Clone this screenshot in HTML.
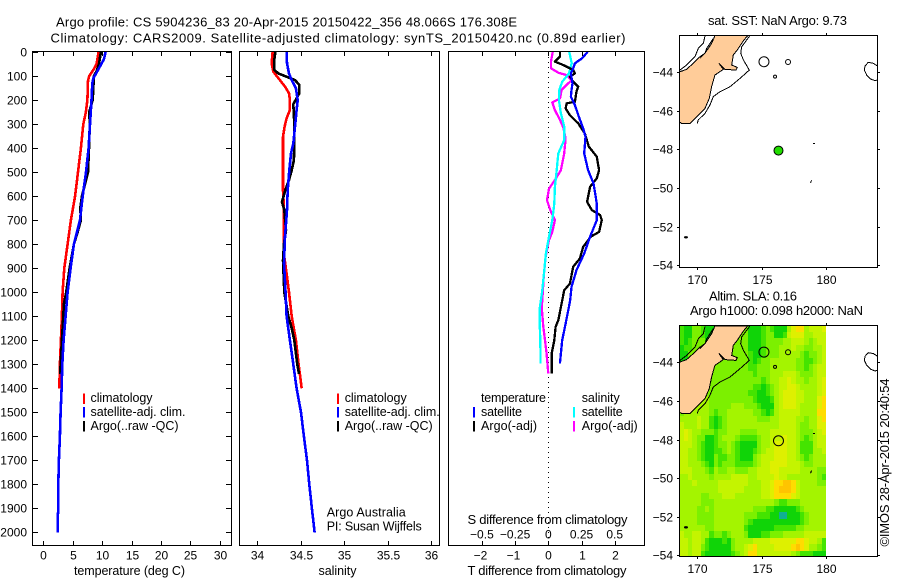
<!DOCTYPE html>
<html>
<head>
<meta charset="utf-8">
<title>Argo profile</title>
<style>
html,body{margin:0;padding:0;background:#fff;width:900px;height:580px;overflow:hidden}
svg{display:block}
text{font-family:"Liberation Sans",sans-serif;font-size:12.5px;fill:#000}
text.t{font-size:13px}
text.n{font-size:12px}
</style>
</head>
<body>
<svg id="chart" xmlns="http://www.w3.org/2000/svg" width="900" height="580" viewBox="0 0 900 580">
<text class="t" x="56" y="26.5" textLength="461">Argo profile: CS 5904236_83 20-Apr-2015 20150422_356 48.066S 176.308E</text>
<text class="t" x="50.5" y="42.5" textLength="575">Climatology: CARS2009. Satellite-adjusted climatology: synTS_20150420.nc (0.89d earlier)</text>
<text x="74" y="575" textLength="111">temperature (deg C)</text>
<text x="318.5" y="575" textLength="38">salinity</text>
<text class="t" x="467.5" y="575" textLength="159">T difference from climatology</text>
<text class="t" x="467.5" y="524" textLength="160">S difference from climatology</text>
<text x="326.7" y="516.7" textLength="79">Argo Australia</text>
<text x="326.7" y="530.7" textLength="95">PI: Susan Wijffels</text>
<text x="90.5" y="402" textLength="62">climatology</text>
<text x="90.5" y="416" textLength="95">satellite-adj. clim.</text>
<text x="90.5" y="430" textLength="88">Argo(..raw -QC)</text>
<text x="344.7" y="402" textLength="62">climatology</text>
<text x="344.7" y="416" textLength="95">satellite-adj. clim.</text>
<text x="344.7" y="430" textLength="88">Argo(..raw -QC)</text>
<text x="481" y="402" textLength="65">temperature</text>
<text x="481" y="416" textLength="41">satellite</text>
<text x="481" y="430" textLength="56">Argo(-adj)</text>
<text x="581.7" y="402" textLength="38">salinity</text>
<text x="581.7" y="416" textLength="41">satellite</text>
<text x="581.7" y="430" textLength="56">Argo(-adj)</text>
<text class="t" x="708" y="25" textLength="139">sat. SST: NaN Argo: 9.73</text>
<text class="t" x="709" y="300.7" textLength="88">Altim. SLA: 0.16</text>
<text class="t" x="690" y="315" textLength="173">Argo h1000: 0.098 h2000: NaN</text>
<text class="t" transform="translate(889,546.5) rotate(-90)" x="0" y="0" textLength="168">©IMOS 28-Apr-2015 20:40:54</text>
</svg>
<script>
const depthTicks = [0,100,200,300,400,500,600,700,800,900,1000,1100,1200,1300,1400,1500,1600,1700,1800,1900,2000];
const tempTicks = [0,5,10,15,20,25,30];
const salTicks = [34,34.5,35,35.5,36];
const tDiffTicks = [-2,-1,0,1,2];
const sDiffTicks = [-0.5,-0.25,0,0.25,0.5];
const sDiffTickLabels = ['−0.5','−0.25','0','0.25','0.5'];
const lonTicks = [170,175,180];
const latTicks = [-44,-46,-48,-50,-52,-54];

const tempClimDepth = [0,50,75,100,120,200,250,300,400,500,600,700,800,900,1000,1100,1200,1300,1400];
const tempClim = [9.4,9.07,8.5,7.8,7.6,7.5,7.25,6.8,6.4,5.9,5.4,4.7,4.14,3.57,3.29,3.17,3.0,2.83,2.72];
const tempSatDepth = [0,30,60,90,110,130,200,300,400,500,600,700,800,900,1000,1100,1200,1300,1400,1500,1600,1700,1800,1900,1950,2000];
const tempSat = [10.6,10.3,9.64,8.96,8.5,8.33,8.2,7.94,7.7,7.26,6.7,6.24,5.2,4.65,4.14,3.8,3.46,3.23,3.12,2.95,2.83,2.66,2.55,2.55,2.44,2.44];
const tempArgoDepth = [0,50,80,100,200,250,300,400,500,550,600,650,700,750,800,900,1000,1050,1100,1200,1300,1340];
const tempArgo = [9.8,9.47,9.07,8.6,8.4,7.8,7.9,7.77,7.6,7.1,6.58,6.3,6.4,5.84,5.2,4.48,3.9,3.5,3.4,3.17,2.95,2.9];

const salClimDepth = [0,47,82,117,144,172,200,242,276,311,353,464,575,658,770,853,922,1000,1100,1200,1300,1400];
const salClim = [34.176,34.165,34.184,34.26,34.318,34.364,34.375,34.375,34.337,34.314,34.295,34.295,34.295,34.307,34.303,34.31,34.337,34.364,34.395,34.444,34.475,34.51];
const salSatDepth = [0,47,89,117,151,200,242,311,381,422,492,575,658,769,881,978,1100,1200,1300,1400,1500,1600,1700,1800,1900,2000];
const salSat = [34.337,34.341,34.364,34.395,34.444,34.464,34.452,34.433,34.414,34.387,34.368,34.349,34.341,34.318,34.307,34.322,34.337,34.375,34.414,34.452,34.502,34.536,34.571,34.598,34.628,34.659];
const salArgoDepth = [0,33,75,89,103,117,137,172,193,217,297,381,450,492,533,575,624,658,742,797,867,1000,1100,1150,1200,1300,1340];
const salArgo = [34.207,34.195,34.195,34.241,34.337,34.433,34.483,34.483,34.452,34.414,34.425,34.425,34.421,34.395,34.364,34.322,34.284,34.31,34.33,34.307,34.295,34.31,34.356,34.395,34.425,34.46,34.479];

const dtSatDepth = [0,26,47,68,89,131,158,186,221,269,318,353,422,492,547,631,700,769,839,908,978,1033,1061,1131,1200,1297];
const dtSat = [1.18,1.02,0.8,0.75,0.68,0.73,0.7,0.68,0.8,0.92,1.05,1.12,1.08,1.2,1.36,1.46,1.46,1.26,1.08,0.85,0.7,0.66,0.62,0.52,0.42,0.35];
const dtArgoDepth = [0,19,40,54,75,89,103,124,144,165,207,214,235,263,297,339,394,436,492,526,561,624,658,679,700,749,769,811,860,894,964,992,1047,1117,1144,1200,1256,1339];
const dtArgo = [0.35,0.35,0.2,0.45,0.75,0.8,0.65,0.75,0.9,0.85,0.8,0.55,0.52,0.65,0.9,1.1,1.22,1.46,1.53,1.46,1.26,1.17,1.31,1.56,1.61,1.53,1.28,1.05,0.95,0.75,0.65,0.48,0.4,0.3,0.22,0.18,0.1,0.1];
const dsSatDepth = [0,47,89,124,158,200,256,311,367,422,492,561,631,700,769,839,908,992,1061,1131,1200,1297];
const dsSat = [0.158,0.176,0.156,0.105,0.083,0.08,0.095,0.12,0.12,0.075,0.063,0.05,0.045,0.03,0.005,-0.018,-0.03,-0.045,-0.063,-0.065,-0.06,-0.058];
const dsArgoDepth = [0,40,68,86,96,117,137,158,193,210,242,283,314,360,422,492,533,569,617,658,700,749,783,853,936,1033,1061,1144,1200,1256,1339];
const dsArgo = [0.033,0.02,0.02,0.075,0.138,0.176,0.138,0.1,0.088,0.03,0.05,0.088,0.113,0.13,0.12,0.095,0.05,0.005,-0.01,0.015,0.05,0.03,0.005,-0.02,-0.035,-0.045,-0.05,-0.038,-0.025,-0.013,0];

const slaRows = [
"21133 21111 33333 31112 32111 46774 5556",
"21133 21111 33333 31112 33112 56664 4555",
"21233 31112 33333 31112 33334 45554 3455",
"12233 31123 33333 31112 33344 45443 3445",
"11333 31233 33333 32112 33344 44432 3345",
"11344 33333 33333 32123 34444 44332 2345",
"23444 33333 33333 32233 34444 44332 3455",
"33444 33333 33333 33233 34445 55433 3455",
"33444 33333 33333 33332 34455 65443 4456",
"34444 43333 33333 33221 23455 66544 4456",
"34444 43333 33333 32211 23456 66554 4456",
"34444 44333 33333 33211 12456 66554 4467",
"34444 44333 33444 33321 11456 66544 4467",
"34444 44323 34444 44332 12455 55544 4477",
"44445 44212 34444 44433 34455 55443 4467",
"54445 44212 34444 44444 44455 55433 4466",
"56544 33323 34443 33344 45555 55433 3456",
"56543 31123 44432 22234 45556 55432 3455",
"55543 21123 34321 11134 45666 55422 2455",
"55443 21122 34321 11234 55666 55422 2445",
"55443 21132 23321 11345 55666 55432 3444",
"55444 32132 33322 22345 56666 55543 3444",
"55544 43243 34433 34455 56655 55544 4433",
"44544 44344 44555 54455 55655 44444 4432",
"44454 44445 55555 54445 56778 87544 4433",
"44444 44445 55555 44445 56788 87544 4444",
"44444 33444 55544 44445 56777 76544 4444",
"44444 33344 44444 44444 44322 33344 4444",
"44443 34344 44444 44333 22111 11234 4444",
"44443 33344 44444 33322 21100 11123 4444",
"44443 33344 44444 32111 11111 11123 4444",
"44444 43344 44444 21111 11222 22334 4444",
"54455 44233 23444 31112 23334 44445 5555",
"55455 42111 21344 44555 56666 66776 5542",
"55455 32111 11344 56755 55666 67876 4432",
"55455 21111 11234 57755 55555 54322 2111"
];
const slaColors = ['#10b090','#10d408','#44e400','#7cf000','#a4f400','#c4f400','#def000','#ffdc00','#ffc400'];

const landLon = [168.6,169.17,169.69,170.21,170.6,171.11,171.37,173.91,173.58,173.11,172.8,172.67,173.11,173.0,172.15,171.68,172.02,171.37,171.11,170.93,170.6,169.95,169.43,168.78,168.6];
const landLat = [-44,-43.86,-43.55,-43.21,-43.03,-42.52,-42.12,-42.12,-42.38,-42.86,-43.12,-43.64,-43.76,-43.9,-43.86,-43.55,-43.86,-44.16,-44.76,-45.36,-45.88,-46.31,-46.66,-46.66,-46.57];
const shelfWestLon = [170.6,170.47,170.08,169.82,169.17,168.65];
const shelfWestLat = [-42.14,-42.52,-42.78,-43.21,-43.64,-43.9];
const shelfNorthLon = [171.24,170.73,170.6,170.21];
const shelfNorthLat = [-42.26,-42.78,-43.03,-43.29];
const shelfEastLon = [174.09,173.45,173.37,173.58,174.04,173.32,172.54,171.76,171.24,170.98,170.6,170.08,170];
const shelfEastLat = [-42.12,-42.69,-43.03,-43.38,-43.9,-44.33,-44.76,-45.02,-45.28,-45.71,-46.14,-46.48,-46.66];
const chathamLon = [184,183.68,183.29,183.03,182.98,183.16,183.47,183.81,184];
const chathamLat = [-43.69,-43.55,-43.5,-43.69,-43.9,-44.16,-44.36,-44.45,-44.41];
const islandLon = [175.18,177.05,176.04];
const islandLat = [-43.47,-43.48,-44.24];
const islandRadius = [5,2.5,1.5];
const floatLon = 176.308;
const floatLat = -48.066;

const NS = 'http://www.w3.org/2000/svg';
const svg = document.getElementById('chart');
function mk(tag, parent) {
  const el = document.createElementNS(NS, tag);
  (parent || svg).appendChild(el);
  return el;
}
function setA(el, o) { for (const k in o) el.setAttribute(k, o[k]); return el; }

const PROFILE_TOP = 52, PROFILE_BOTTOM = 545.5;
const yDepth = d => 52 + d * 0.2402;
const xTemp = v => 43.3 + v * 5.88;
const xSal = v => 257.3 + (v - 34) * 87;
const xDT = v => 548.3 + v * 33.2;
const xDS = v => 548.3 + v * 132.8;
const xLon = v => 697.3 + (v - 170) * 12.87;
const yLat1 = v => 72 + (-44 - v) * 19.33;
const yLat2 = v => 362.3 + (-44 - v) * 19.3;

function seg(x1, y1, x2, y2, parent, name) {
  const l = mk('line', parent);
  
  
  setA(l, {x1, y1, x2, y2, stroke: '#000', 'stroke-width': 1, 'shape-rendering': 'crispEdges'});
  return l;
}
function label(str, x, y, anchor, name) {
  const t = mk('text');
  
  
  setA(t, {x, y, 'text-anchor': anchor, class: 'n'});
  t.textContent = str;
  return t;
}
function box(x1, y1, x2, y2, name) {
  const r = mk('rect');
  
  
  setA(r, {x: x1, y: y1, width: x2 - x1, height: y2 - y1, fill: 'none', stroke: '#000', 'stroke-width': 1, 'shape-rendering': 'crispEdges'});
  return r;
}
function profile(depths, values, xf, color, width, name) {
  const p = mk('polyline');
  
  
  const pts = depths.map((d, i) => xf(values[i]).toFixed(1) + ',' + yDepth(d).toFixed(1)).join(' ');
  setA(p, {points: pts, fill: 'none', stroke: color, 'stroke-width': width, 'shape-rendering': 'crispEdges', 'stroke-linejoin': 'round'});
  return p;
}
function legendSwatch(x, y, color, name) {
  const r = mk('rect');
  
  
  setA(r, {x: x - 1, y, width: 2, height: 10.5, fill: color, 'shape-rendering': 'crispEdges'});
  return r;
}
function geoLine(lons, lats, yf, close, name) {
  const p = mk('polyline');
  
  
  const pts = lons.map((v, i) => xLon(v).toFixed(1) + ',' + yf(lats[i]).toFixed(1)).join(' ');
  setA(p, {points: pts, fill: 'none', stroke: '#000', 'stroke-width': 1, 'shape-rendering': 'crispEdges'});
  return p;
}

/* temperature panel */
profile(tempClimDepth, tempClim, xTemp, '#ff0000', 2.6, 'temperature-climatology-line');
profile(tempArgoDepth, tempArgo, xTemp, '#000000', 2.6, 'temperature-argo-line');
profile(tempSatDepth, tempSat, xTemp, '#0000ff', 2.6, 'temperature-satellite-line');
box(32.5, 51.5, 231.5, PROFILE_BOTTOM, 'temperature-panel-frame');
depthTicks.forEach(d => {
  const y = Math.round(yDepth(d)) + 0.5;
  seg(32.5, y, 38, y, svg, 'depth-tick-left');
  seg(226, y, 231.5, y, svg, 'depth-tick-right');
  label(String(d), 27, y + 4, 'end', 'depth-tick-label');
});
tempTicks.forEach(v => {
  const x = Math.round(xTemp(v)) + 0.5;
  seg(x, 51.5, x, 56, svg, 'temperature-tick-top');
  seg(x, 541, x, 545.5, svg, 'temperature-tick-bottom');
  label(String(v), x, 559.3, 'middle', 'temperature-tick-label');
});
legendSwatch(84, 393.3, '#ff0000', 'legend-t-climatology-swatch');
legendSwatch(84, 407, '#0000ff', 'legend-t-satellite-swatch');
legendSwatch(84, 421, '#000000', 'legend-t-argo-swatch');

/* salinity panel */
profile(salClimDepth, salClim, xSal, '#ff0000', 2.6, 'salinity-climatology-line');
profile(salArgoDepth, salArgo, xSal, '#000000', 2.6, 'salinity-argo-line');
profile(salSatDepth, salSat, xSal, '#0000ff', 2.6, 'salinity-satellite-line');
box(239.5, 51.5, 439.5, PROFILE_BOTTOM, 'salinity-panel-frame');
salTicks.forEach(v => {
  const x = Math.round(xSal(v)) + 0.5;
  seg(x, 51.5, x, 56, svg, 'salinity-tick-top');
  seg(x, 541, x, 545.5, svg, 'salinity-tick-bottom');
  label(String(v), x, 559.3, 'middle', 'salinity-tick-label');
});
legendSwatch(338, 393.3, '#ff0000', 'legend-s-climatology-swatch');
legendSwatch(338, 407, '#0000ff', 'legend-s-satellite-swatch');
legendSwatch(338, 421, '#000000', 'legend-s-argo-swatch');

/* difference panel */
const zeroLine = seg(548.5, 52, 548.5, 545, svg, 'zero-difference-line');
setA(zeroLine, {'stroke-dasharray': '1 4'});
profile(dsArgoDepth, dsArgo, xDS, '#ff00ff', 2.3, 'salinity-argo-difference-line');
profile(dsSatDepth, dsSat, xDS, '#00ffff', 2.3, 'salinity-satellite-difference-line');
profile(dtArgoDepth, dtArgo, xDT, '#000000', 2.3, 'temperature-argo-difference-line');
profile(dtSatDepth, dtSat, xDT, '#0000ff', 2.3, 'temperature-satellite-difference-line');
box(448.5, 51.5, 644.5, PROFILE_BOTTOM, 'difference-panel-frame');
tDiffTicks.forEach((v, i) => {
  const x = Math.round(xDT(v)) + 0.5;
  seg(x, 51.5, x, 56, svg, 'difference-tick-top');
  seg(x, 541, x, 545.5, svg, 'difference-tick-bottom');
  label(String(v).replace('-', '−'), x - (v < 0 ? 2 : 0), 559.3, 'middle', 'temperature-difference-tick-label');
  label(sDiffTickLabels[i], xDS(sDiffTicks[i]), 538.7, 'middle', 'salinity-difference-tick-label');
});
legendSwatch(474, 407, '#0000ff', 'legend-dt-satellite-swatch');
legendSwatch(474, 421, '#000000', 'legend-dt-argo-swatch');
legendSwatch(574, 407, '#00ffff', 'legend-ds-satellite-swatch');
legendSwatch(574, 421, '#ff00ff', 'legend-ds-argo-swatch');

/* maps */
function drawMapBase(yf, top, bottom, prefix) {
  const land = mk('polygon');
  
  
  setA(land, {points: landLon.map((v, i) => xLon(v).toFixed(1) + ',' + yf(landLat[i]).toFixed(1)).join(' '), fill: '#ffcc99', stroke: '#000', 'stroke-width': 1, 'shape-rendering': 'crispEdges'});
  geoLine(shelfWestLon, shelfWestLat, yf, false, prefix + '-contour-west');
  geoLine(shelfNorthLon, shelfNorthLat, yf, false, prefix + '-contour-north');
  geoLine(shelfEastLon, shelfEastLat, yf, false, prefix + '-contour-east');
  geoLine(chathamLon, chathamLat, yf, false, prefix + '-contour-chatham');
  islandLon.forEach((v, i) => {
    const c = mk('circle');
    
    
    setA(c, {cx: xLon(v), cy: yf(islandLat[i]), r: islandRadius[i], fill: 'none', stroke: '#000', 'stroke-width': 1});
  });
  seg(xLon(179), yf(-47.69), xLon(179) + 2, yf(-47.69), svg, prefix + '-islet');
  seg(xLon(178.8), yf(-49.75), xLon(178.8) + 1, yf(-49.6), svg, prefix + '-islet');
  const blob = mk('ellipse');
  
  
  setA(blob, {cx: xLon(169.12), cy: yf(-52.55), rx: 2, ry: 1.2, fill: '#000'});
  box(679.5, top, 877.5, bottom, prefix + '-frame');
  lonTicks.forEach(v => {
    const x = Math.round(xLon(v)) + 0.5;
    seg(x, top - 2.5, x, top, svg, prefix + '-lon-tick-top');
    seg(x, bottom, x, bottom + 2.5, svg, prefix + '-lon-tick-bottom');
    label(String(v), x, bottom + 16.5, 'middle', prefix + '-lon-tick-label');
  });
  latTicks.forEach(v => {
    const y = Math.round(yf(v)) + 0.5;
    seg(677, y, 679.5, y, svg, prefix + '-lat-tick-left');
    seg(877.5, y, 880, y, svg, prefix + '-lat-tick-right');
    label('−' + Math.abs(v), 673, y + 4, 'end', prefix + '-lat-tick-label');
  });
}

/* sea level anomaly cells */
const cellRows = slaRows.map(r => r.replace(/ /g, ''));
const latStart = -42.1, latStep = 1 / 3, lonStart = 168.6;
cellRows.forEach((row, j) => {
  const lonStep = (180 - lonStart) / row.length;
  for (let i = 0; i < row.length; i++) {
    const x0 = Math.max(680, Math.round(xLon(lonStart + i * lonStep)));
    const x1 = Math.round(xLon(lonStart + (i + 1) * lonStep));
    const y0 = Math.max(326, Math.round(yLat2(latStart - j * latStep)));
    const y1 = Math.min(556, Math.round(yLat2(latStart - (j + 1) * latStep)));
    const cell = mk('rect');
    
    
    setA(cell, {x: x0, y: y0, width: x1 - x0, height: y1 - y0, fill: slaColors[+row[i]], 'shape-rendering': 'crispEdges'});
  }
});

drawMapBase(yLat1, 35.5, 267.5, 'sst-map');
drawMapBase(yLat2, 325.5, 556.5, 'sla-map');

const sstFloat = mk('circle');


setA(sstFloat, {cx: xLon(floatLon), cy: yLat1(floatLat), r: 4.5, fill: '#22dd00', stroke: '#000', 'stroke-width': 1});
const slaFloat = mk('circle');


setA(slaFloat, {cx: xLon(floatLon), cy: yLat2(floatLat), r: 5, fill: 'none', stroke: '#000', 'stroke-width': 1});
</script>
</body>
</html>
